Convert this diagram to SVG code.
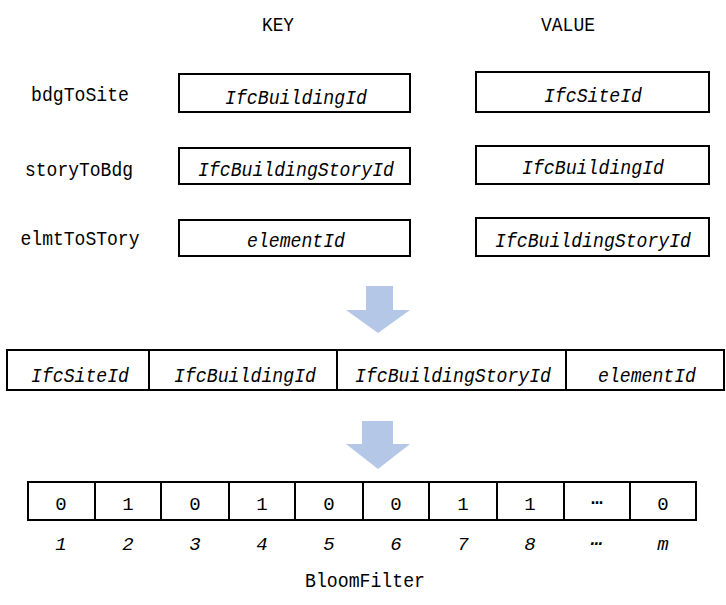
<svg xmlns="http://www.w3.org/2000/svg" width="726" height="605" viewBox="0 0 726 605">
<style>
.t{font-family:"Liberation Mono","DejaVu Sans Mono",monospace;font-size:21px;fill:#000;text-anchor:middle}
.d{font-size:19px}
.i{font-style:italic}
.b{fill:#fff;stroke:#000;stroke-width:2}
.a{fill:#B4C7E7}
</style>
<rect width="726" height="605" fill="#fff"/>
<g id="headers">
<text class="t" x="278" y="31" textLength="32" lengthAdjust="spacingAndGlyphs">KEY</text>
<text class="t" x="568" y="31" textLength="54" lengthAdjust="spacingAndGlyphs">VALUE</text>
</g>
<g id="row-bdgToSite">
<text class="t" x="80" y="101" textLength="98" lengthAdjust="spacingAndGlyphs">bdgToSite</text>
<rect class="b" x="179" y="74" width="231" height="38"/>
<text class="t i" x="296" y="104" textLength="142" lengthAdjust="spacingAndGlyphs">IfcBuildingId</text>
<rect class="b" x="476" y="72" width="233" height="40"/>
<text class="t i" x="593" y="102" textLength="98" lengthAdjust="spacingAndGlyphs">IfcSiteId</text>
</g>
<g id="row-storyToBdg">
<text class="t" x="79" y="176" textLength="108" lengthAdjust="spacingAndGlyphs">storyToBdg</text>
<rect class="b" x="179" y="148" width="231" height="36"/>
<text class="t i" x="296" y="176" textLength="196" lengthAdjust="spacingAndGlyphs">IfcBuildingStoryId</text>
<rect class="b" x="476" y="146" width="233" height="38"/>
<text class="t i" x="593" y="174" textLength="142" lengthAdjust="spacingAndGlyphs">IfcBuildingId</text>
</g>
<g id="row-elmtToSTory">
<text class="t" x="80" y="245" textLength="119" lengthAdjust="spacingAndGlyphs">elmtToSTory</text>
<rect class="b" x="179" y="220" width="231" height="36"/>
<text class="t i" x="296" y="247" textLength="98" lengthAdjust="spacingAndGlyphs">elementId</text>
<rect class="b" x="476" y="218" width="233" height="38"/>
<text class="t i" x="593" y="247" textLength="196" lengthAdjust="spacingAndGlyphs">IfcBuildingStoryId</text>
</g>
<g id="connectors">
<polygon class="a" points="366,286 393,286 393,310 410,310 378,333 346,310 366,310"/>
<polygon class="a" points="362,421 393,421 393,444 410,444 378,469 346,444 362,444"/>
</g>
<g id="combined-key">
<rect class="b" x="7" y="350" width="717" height="40"/>
<line x1="149" y1="350" x2="149" y2="390" stroke="#000" stroke-width="2"/>
<line x1="337" y1="350" x2="337" y2="390" stroke="#000" stroke-width="2"/>
<line x1="566" y1="350" x2="566" y2="390" stroke="#000" stroke-width="2"/>
<text class="t i" x="80" y="382" textLength="98" lengthAdjust="spacingAndGlyphs">IfcSiteId</text>
<text class="t i" x="245" y="382" textLength="142" lengthAdjust="spacingAndGlyphs">IfcBuildingId</text>
<text class="t i" x="453" y="382" textLength="196" lengthAdjust="spacingAndGlyphs">IfcBuildingStoryId</text>
<text class="t i" x="647" y="382" textLength="98" lengthAdjust="spacingAndGlyphs">elementId</text>
</g>
<g id="bloomfilter">
<rect class="b" x="28" y="482" width="668" height="38"/>
<g stroke="#000" stroke-width="2">
<line x1="95" y1="482" x2="95" y2="520"/>
<line x1="161" y1="482" x2="161" y2="520"/>
<line x1="229" y1="482" x2="229" y2="520"/>
<line x1="295" y1="482" x2="295" y2="520"/>
<line x1="363" y1="482" x2="363" y2="520"/>
<line x1="429" y1="482" x2="429" y2="520"/>
<line x1="497" y1="482" x2="497" y2="520"/>
<line x1="564" y1="482" x2="564" y2="520"/>
<line x1="630" y1="482" x2="630" y2="520"/>
</g>
<text class="t d" x="61" y="510">0</text>
<text class="t d" x="128" y="510">1</text>
<text class="t d" x="195" y="510">0</text>
<text class="t d" x="262" y="510">1</text>
<text class="t d" x="329" y="510">0</text>
<text class="t d" x="396" y="510">0</text>
<text class="t d" x="463" y="510">1</text>
<text class="t d" x="530" y="510">1</text>
<text class="t d" x="597" y="504" font-weight="bold">…</text>
<text class="t d" x="663" y="510">0</text>
<text class="t d i" x="61" y="550">1</text>
<text class="t d i" x="128" y="550">2</text>
<text class="t d i" x="195" y="550">3</text>
<text class="t d i" x="262" y="550">4</text>
<text class="t d i" x="329" y="550">5</text>
<text class="t d i" x="396" y="550">6</text>
<text class="t d i" x="463" y="550">7</text>
<text class="t d i" x="530" y="550">8</text>
<text class="t d i" x="597" y="545" font-weight="bold">…</text>
<text class="t d i" x="663" y="550">m</text>
<text class="t" x="365" y="587" textLength="120" lengthAdjust="spacingAndGlyphs">BloomFilter</text>
</g>
</svg>
